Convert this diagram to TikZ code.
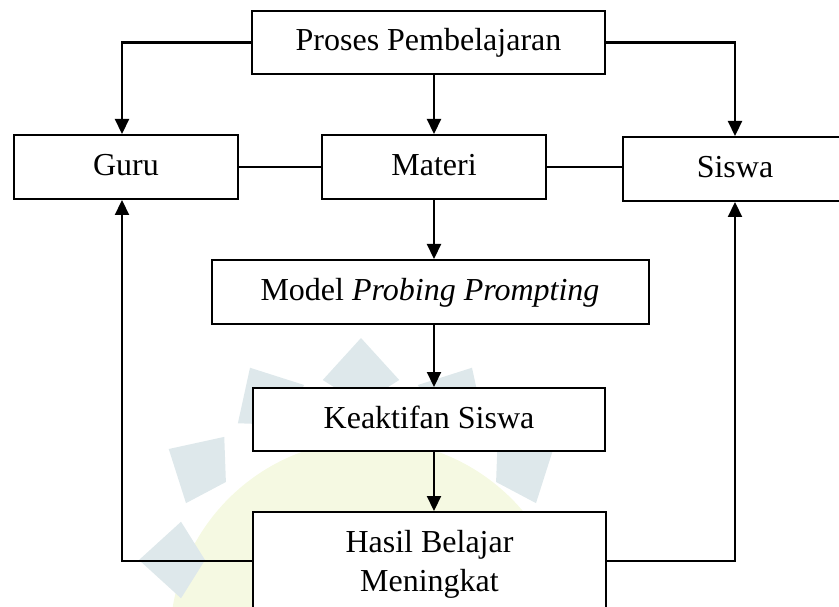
\documentclass[tikz,border=0pt]{standalone}
\usepackage{fontspec}
\setmainfont{Liberation Serif}
\usetikzlibrary{arrows.meta}
\definecolor{wmblue}{RGB}{222,232,235}
\definecolor{wmyel}{RGB}{245,249,226}
\begin{document}
\begin{tikzpicture}[x=1pt,y=-1pt,
  box/.style={draw, line width=2pt, fill=white, inner sep=0pt,
    font=\fontsize{32}{39}\selectfont, text height=23pt, text depth=6pt},
  twoline/.style={draw, line width=2pt, fill=white, inner xsep=0pt, inner ysep=18pt,
    font=\fontsize{32}{39}\selectfont, align=center},
  conn/.style={line width=2.2pt},
  arr/.style={conn, -{Triangle[length=15pt,width=14pt]}},
  thinconn/.style={line width=1.8pt}]
\useasboundingbox (0,0) rectangle (839,607);
\clip (0,0) rectangle (839,607);
% faint watermark
\fill[wmyel] (370,640) circle (200);
\begin{scope}[shift={(361,560)}]
  \foreach \a/\c in {30/wmblue,60/wmblue,90/wmblue,120/wmblue,150/wmblue,180/wmblue}
    \fill[\c] (-\a:222) -- (-\a-12:184) -- (-\a:156) -- (-\a+12:184) -- cycle;
\end{scope}
% helper coordinates
\coordinate (gL) at (122,0);
\coordinate (sR) at (735,0);
\coordinate (fb) at (0,561);
% boxes
\node[box, minimum width=353pt, minimum height=63pt] (proses) at (428.5,42.5) {Proses Pembelajaran};
\node[box, minimum width=224pt, minimum height=64pt] (guru) at (126,167) {Guru};
\node[box, minimum width=224pt, minimum height=64pt] (materi) at (434,167) {Materi};
\node[box, minimum width=225pt, minimum height=64pt] (siswa) at (735,169) {Siswa};
\node[box, minimum width=437pt, minimum height=64pt] (model) at (430,292) {Model \textit{Probing Prompting}};
\node[box, minimum width=352pt, minimum height=63pt] (keak) at (429,419.5) {Keaktifan Siswa};
\node[twoline, minimum width=353pt, anchor=north] (hasil) at (429.5,511) {Hasil Belajar\\Meningkat};
% connectors
\draw[arr] (proses.west) -| (gL |- guru.north);
\draw[arr] (proses.east) -| (sR |- siswa.north);
\draw[arr] (materi.north |- proses.south) -- (materi.north);
\draw[thinconn] (guru.east) -- (materi.west);
\draw[thinconn] (materi.east) -- (materi.east -| siswa.west);
\draw[arr] (materi.south) -- (materi.south |- model.north);
\draw[arr] (materi.south |- model.south) -- (materi.south |- keak.north);
\draw[arr] (materi.south |- keak.south) -- (materi.south |- hasil.north);
\draw[arr] (hasil.west |- fb) -| (gL |- guru.south);
\draw[arr] (hasil.east |- fb) -| (sR |- siswa.south);
\end{tikzpicture}
\end{document}
